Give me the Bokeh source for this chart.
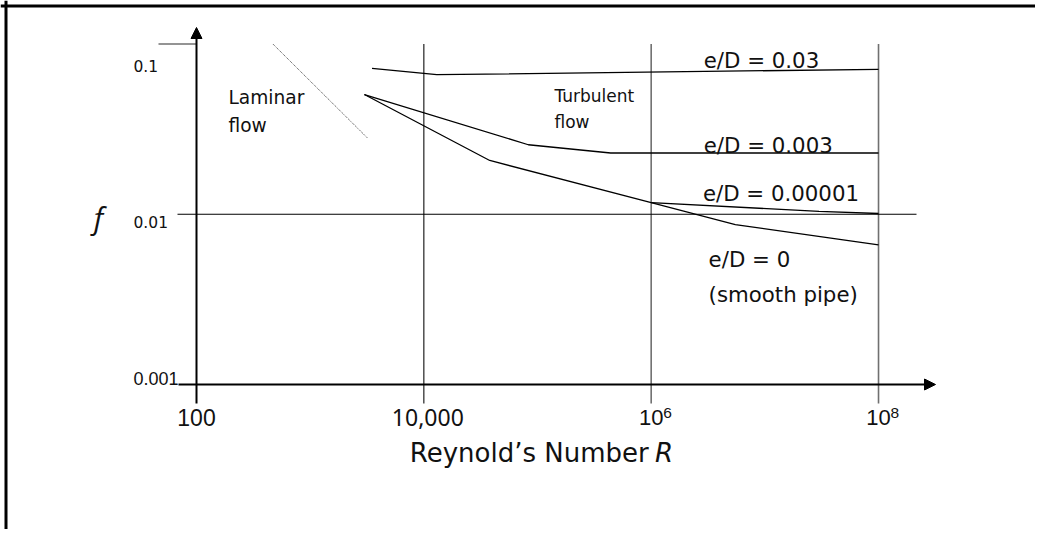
import numpy as np
from bokeh.plotting import figure
from bokeh.models import Range1d, Arrow, NormalHead, Span
from bokeh.core.properties import value
from bokeh.embed import file_html
from bokeh.resources import INLINE

# ---------------- data ----------------
re_ed003 = [3500, 13000, 1e8]
f_ed003 = [0.072, 0.066, 0.071]

re_ed0003 = [3000, 83000, 440000, 1e8]
f_ed0003 = [0.0505, 0.0256, 0.0229, 0.0229]

re_smooth = [3000, 38000, 1e6, 5.5e6, 1e8]
f_smooth = [0.0505, 0.0207, 0.0117, 0.0087, 0.0066]

re_ed00001 = [1e6, 3e7, 1e8]
f_ed00001 = [0.0117, 0.0104, 0.0101]

re_laminar = [470, 3200]
f_laminar = [0.1, 0.028]

x_ticks = [100, 1e4, 1e6, 1e8]
x_tick_text = ["100", "10,000", "10", "10"]
x_tick_exp = ["", "", "6", "8"]

y_ticks = [0.1, 0.01, 0.001]
y_tick_text = ["0.1", "0.01", "0.001"]

curve_labels = ["e/D = 0.03", "e/D = 0.003", "e/D = 0.00001", "e/D = 0", "(smooth pipe)"]
curve_label_re = [2.9e6, 2.9e6, 2.85e6, 3.2e6, 3.2e6]
curve_label_f = [0.080, 0.0254, 0.0133, 0.00539, 0.00338]

region_labels = ["Laminar", "flow", "Turbulent", "flow"]
region_label_re = [191, 191, 1.41e5, 1.41e5]
region_label_f = [0.0488, 0.0334, 0.0495, 0.0348]

x_title = "Reynold\u2019s Number"
x_title_var = "R"
y_title = "f"

# ---------------- layout ----------------
W, H = 1035, 529
X0, DX = 196.0, 113.67   # px of R=100, px per decade
Y0, DY = 384.0, 170.25   # px of f=0.001, px per decade


def rx(px):
    return 10 ** (2 + (px - X0) / DX)


def fy(py):
    return 10 ** (-3 + (Y0 - py) / DY)


p = figure(width=W, height=H,
           x_range=Range1d(rx(0), rx(W)),
           y_range=Range1d(fy(H), fy(0)),
           x_axis_type="log", y_axis_type="log",
           x_axis_location=None, y_axis_location=None,
           toolbar_location=None, output_backend="svg",
           min_border=0)
p.outline_line_color = None
p.background_fill_color = "white"
p.border_fill_color = "white"
p.grid.visible = False

# frame border (top and left only visible)
p.add_layout(Span(location=fy(5.5), dimension="width", line_color="black", line_width=3))
p.add_layout(Span(location=rx(5.5), dimension="height", line_color="black", line_width=3))

x_lo, y_lo = x_ticks[0], y_ticks[-1]
below = fy(Y0 + 19)

# vertical grid lines
p.segment(x0=x_ticks[1:2], y0=[below], x1=x_ticks[1:2], y1=[y_ticks[0]], line_color="#222222", line_width=1.2)
p.segment(x0=x_ticks[2:], y0=[below] * 2, x1=x_ticks[2:], y1=[y_ticks[0]] * 2, line_color="#707070", line_width=1.6)

# horizontal helper lines
p.segment(x0=[rx(X0 - 38)], y0=[y_ticks[0]], x1=[x_lo], y1=[y_ticks[0]], line_color="#707070", line_width=1.5)
p.segment(x0=[rx(X0 - 19)], y0=[y_ticks[1]], x1=[rx(X0 + 720)], y1=[y_ticks[1]], line_color="black", line_width=1.1)

# axes with arrows
p.add_layout(Arrow(end=NormalHead(size=11, fill_color="black", line_color="black"),
                   x_start=x_lo, y_start=below, x_end=x_lo, y_end=fy(Y0 - 357),
                   line_color="black", line_width=2))
p.add_layout(Arrow(end=NormalHead(size=11, fill_color="black", line_color="black"),
                   x_start=rx(X0 - 18), y_start=y_lo, x_end=rx(X0 + 739), y_end=y_lo,
                   line_color="black", line_width=2))

# curves
for xs, ys in [(re_ed003, f_ed003), (re_ed0003, f_ed0003), (re_smooth, f_smooth), (re_ed00001, f_ed00001)]:
    p.line(xs, ys, line_color="black", line_width=1.3)
p.line(re_laminar, f_laminar, line_color="#444444", line_width=1.0, line_dash="1 1")

TXT = "#111111"
# x tick labels
lab_f = fy(Y0 + 32.5)
p.text(x=[x_ticks[0]], y=[lab_f], text=[x_tick_text[0]], text_font=value("Liberation Sans"),
       text_font_size=value("23px"), text_align="center", text_baseline="middle", text_color=TXT)
p.text(x=[x_ticks[1]], y=[lab_f], text=[x_tick_text[1]], text_font=value("Noto Sans"),
       text_font_size=value("23px"), text_align="center", text_baseline="middle", text_color=TXT, x_offset=4)
p.text(x=x_ticks[2:], y=[lab_f] * 2, text=x_tick_text[2:], text_font=value("Liberation Sans"),
       text_font_size=value("22px"), text_align="center", text_baseline="middle", text_color=TXT)
p.text(x=x_ticks[2:], y=[lab_f] * 2, text=x_tick_exp[2:], text_font=value("Liberation Sans"),
       text_font_size=value("15.5px"), text_align="left", text_baseline="middle", text_color=TXT,
       x_offset=12, y_offset=-4)

# y tick labels
p.text(x=[x_lo] * 2, y=y_ticks[:2], text=y_tick_text[:2], text_font=value("DejaVu Sans"),
       text_font_size=value("15.5px"), text_align="left", text_baseline="middle", text_color=TXT,
       x_offset=-63, y_offset=[22, 8])
p.text(x=[x_lo], y=[y_ticks[2]], text=[y_tick_text[2]], text_font=value("Liberation Sans"),
       text_font_size=value("18px"), text_align="left", text_baseline="middle", text_color=TXT,
       x_offset=-63, y_offset=-6)

# axis titles
p.text(x=[x_lo], y=[y_ticks[1]], text=[y_title], text_font=value("Open Sans"), text_font_style="italic",
       text_font_size=value("30px"), text_align="center", text_baseline="middle", text_color=TXT,
       x_offset=-98, y_offset=3)
p.text(x=[x_ticks[1]], y=[fy(Y0 + 68)], text=[x_title], text_font=value("DejaVu Sans"),
       text_font_size=value("26px"), text_align="left", text_baseline="middle", text_color=TXT,
       x_offset=-14)
p.text(x=[x_ticks[2]], y=[fy(Y0 + 68)], text=[x_title_var], text_font=value("DejaVu Sans"),
       text_font_style="italic", text_font_size=value("26px"), text_align="right",
       text_baseline="middle", text_color=TXT, x_offset=22)

# curve labels
p.text(x=curve_label_re, y=curve_label_f, text=curve_labels, text_font=value("DejaVu Sans"),
       text_font_size=value("21.3px"), text_align="left", text_baseline="middle", text_color=TXT)

# region labels
p.text(x=region_label_re[:2], y=region_label_f[:2], text=region_labels[:2], text_font=value("DejaVu Sans"),
       text_font_size=value("18.6px"), text_align="left", text_baseline="middle", text_color=TXT)
p.text(x=region_label_re[2:], y=region_label_f[2:], text=region_labels[2:], text_font=value("DejaVu Sans"),
       text_font_size=value("17px"), text_align="left", text_baseline="middle", text_color=TXT)

open("out.html", "w").write(file_html(p, INLINE))
